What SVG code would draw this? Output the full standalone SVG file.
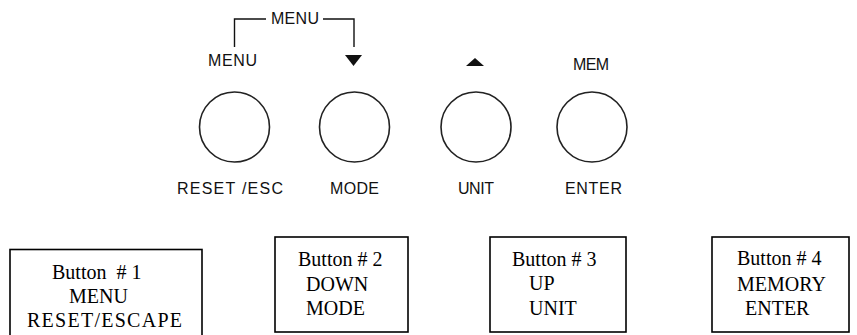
<svg xmlns="http://www.w3.org/2000/svg" width="857" height="335" viewBox="0 0 857 335">
<style>
.panel{font-family:"Liberation Sans",Arial,sans-serif;font-size:16px;fill:#111;}
.btn{fill:none;stroke:#222;stroke-width:1.6;}
.box{fill:#fff;stroke:#000;stroke-width:1.6;}
.lbl{font-family:"Liberation Serif","Times New Roman",serif;font-size:20px;fill:#000;}
.ln{fill:none;stroke:#111;stroke-width:1.4;}
</style>
<rect width="857" height="335" fill="#fff"/>
<g id="connectors">
<polyline class="ln" points="234.5,47 234.5,19 266,19"/>
<polyline class="ln" points="323,19 354,19 354,47"/>
</g>
<g id="panel-labels">
<text class="panel" x="271" y="23.5" textLength="48" lengthAdjust="spacing">MENU</text>
<text class="panel" x="208" y="65.5" textLength="49" lengthAdjust="spacing">MENU</text>
<polygon points="345,55 362,55 353.5,66" fill="#111"/>
<polygon points="466,66 484,66 475,58" fill="#111"/>
<text class="panel" x="573" y="69.5" textLength="36" lengthAdjust="spacing">MEM</text>
</g>
<g id="button1">
<circle class="btn" cx="234.5" cy="127" r="35"/>
<text class="panel" x="177" y="193.5" textLength="106" lengthAdjust="spacing">RESET /ESC</text>
</g>
<g id="button2">
<circle class="btn" cx="354.5" cy="127" r="35"/>
<text class="panel" x="330" y="193.5" textLength="49" lengthAdjust="spacing">MODE</text>
</g>
<g id="button3">
<circle class="btn" cx="476" cy="127" r="35"/>
<text class="panel" x="458" y="193.5" textLength="36" lengthAdjust="spacing">UNIT</text>
</g>
<g id="button4">
<circle class="btn" cx="592" cy="127" r="35"/>
<text class="panel" x="565" y="193.5" textLength="57" lengthAdjust="spacing">ENTER</text>
</g>
<g id="box1">
<rect class="box" x="10" y="249.5" width="192" height="100"/>
<text class="lbl" x="52" y="279" xml:space="preserve">Button  # 1</text>
<text class="lbl" x="69" y="303">MENU</text>
<text class="lbl" x="27" y="327" textLength="155" lengthAdjust="spacing">RESET/ESCAPE</text>
</g>
<g id="box2">
<rect class="box" x="275" y="237" width="133" height="95"/>
<text class="lbl" x="298" y="266">Button # 2</text>
<text class="lbl" x="306" y="291">DOWN</text>
<text class="lbl" x="306" y="315">MODE</text>
</g>
<g id="box3">
<rect class="box" x="490" y="237" width="136" height="95"/>
<text class="lbl" x="512" y="266">Button # 3</text>
<text class="lbl" x="529" y="290">UP</text>
<text class="lbl" x="529" y="315">UNIT</text>
</g>
<g id="box4">
<rect class="box" x="712" y="237" width="137" height="95"/>
<text class="lbl" x="737" y="265">Button # 4</text>
<text class="lbl" x="737" y="291">MEMORY</text>
<text class="lbl" x="745" y="315">ENTER</text>
</g>
</svg>
